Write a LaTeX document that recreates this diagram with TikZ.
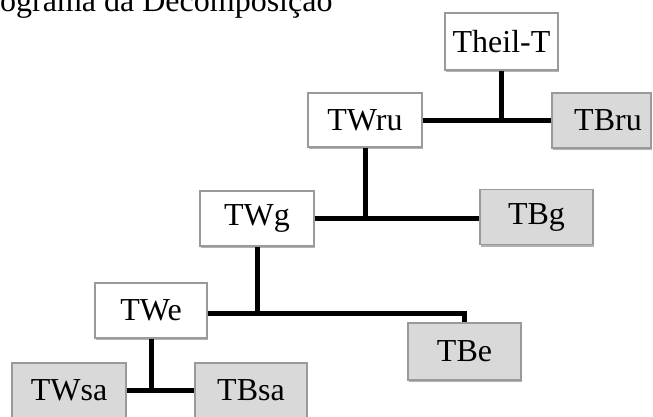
\documentclass[tikz,border=0pt]{standalone}
\usepackage{fontspec}
\setmainfont{Liberation Serif}
\usetikzlibrary{shadows}
\definecolor{boxline}{HTML}{9A9A9A}
\definecolor{tbfill}{HTML}{D9D9D9}
\tikzset{
  box/.style={draw=boxline, line width=1.1pt, rectangle, inner sep=0pt,
    minimum width=113pt, minimum height=55pt,
    font=\fontsize{32}{38}\selectfont,
    drop shadow={shadow xshift=1.2pt, shadow yshift=-2pt, fill=black, opacity=0.3}},
  twbox/.style={box, fill=white},
  tbbox/.style={box, fill=tbfill},
  conn/.style={draw=black, line width=5pt},
}
\begin{document}
\begin{tikzpicture}[x=1pt,y=-1pt]
\useasboundingbox (0,0) rectangle (653,416);
\clip (0,0) rectangle (653,416);
\fill[white] (0,0) rectangle (653,416);
\node[anchor=base west, inner sep=0pt, font=\fontsize{32}{38}\selectfont] (title) at (0,11) {ograma da Decomposição};

\node[twbox, minimum height=57pt] (theil) at (501.5,41.5) {Theil-T};
\node[twbox, minimum width=114pt, minimum height=54pt] (twru) at (365,120) {TWru};
\node[tbbox, minimum width=99pt] (tbru) at (601.5,120.5) {\hspace*{13pt}TBru};
\node[twbox, minimum width=114pt] (twg) at (257,218.5) {TWg};
\node[tbbox] (tbg) at (536.5,217) {TBg};
\node[twbox, minimum width=112pt] (twe) at (151,310.5) {TWe};
\node[tbbox, minimum height=57pt] (tbe) at (464.5,351.5) {TBe};
\node[tbbox, minimum width=114pt] (twsa) at (69,390.5) {TWsa};
\node[tbbox, minimum width=112pt] (tbsa) at (251,390.5) {TBsa};

% Theil-T -> TWru / TBru
\coordinate (j1) at (theil.south |- twru.east);
\draw[conn] (twru.east) -- (tbru.west |- twru.east);
\draw[conn] (theil.south) -- (j1);
% TWru -> TWg / TBg
\coordinate (j2) at (twru.south |- twg.east);
\draw[conn] (twg.east) -- (tbg.west |- twg.east);
\draw[conn] (twru.south) -- (j2);
% TWg -> TWe / TBe
\coordinate (j3) at (twg.south |- 0,313);
\draw[conn] (twg.south) -- (j3);
\draw[conn] (twe.east |- 0,313) -- (tbe.north |- 0,313) -- (tbe.north);
% TWe -> TWsa / TBsa
\draw[conn] (twsa.east) -- (tbsa.west);
\draw[conn] (twe.south) -- (twe.south |- twsa.east);
\end{tikzpicture}
\end{document}
